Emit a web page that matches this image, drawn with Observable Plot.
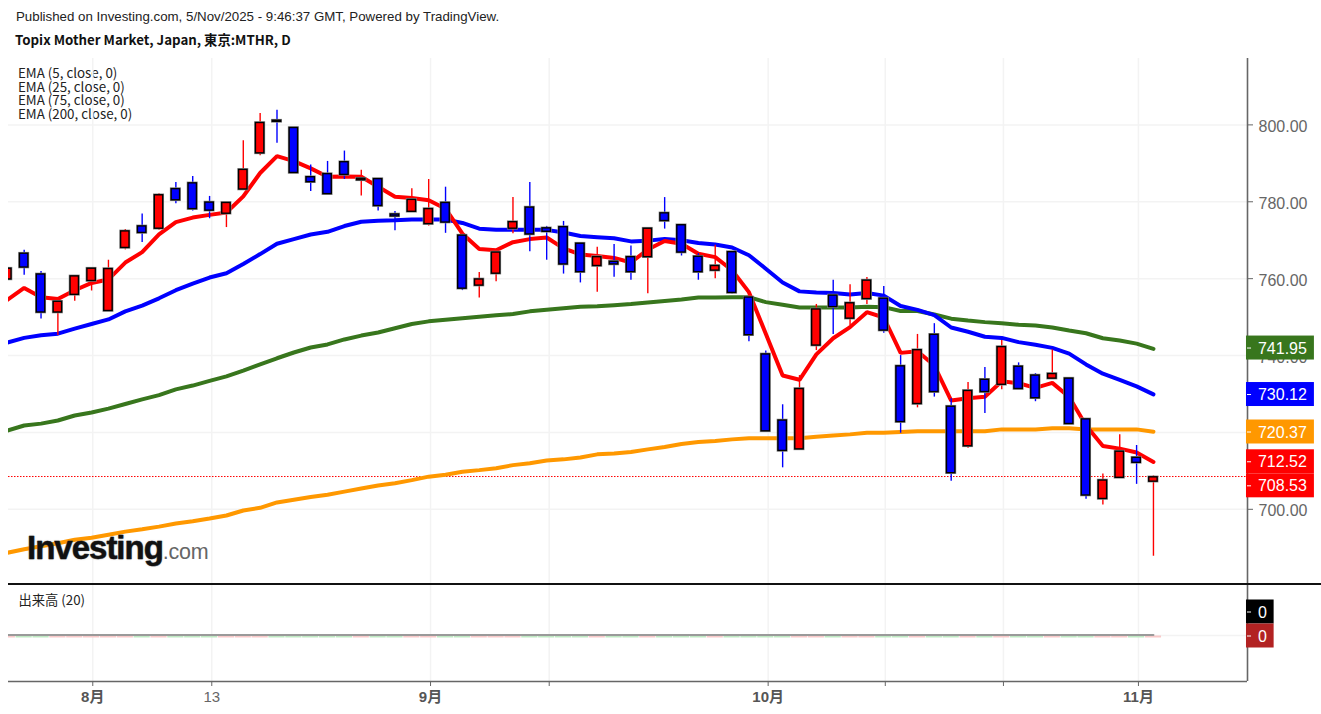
<!DOCTYPE html>
<html>
<head>
<meta charset="utf-8">
<script src="https://cdn.jsdelivr.net/npm/d3@7"></script>
<script src="https://cdn.jsdelivr.net/npm/@observablehq/plot@0.6"></script>
<style>
html,body{margin:0;padding:0;background:#fff;overflow:hidden;}
#page{position:relative;width:1321px;height:714px;}
#page svg{display:block;position:absolute;left:0;}
.t{position:absolute;white-space:nowrap;color:#111;}
#pub{left:16px;top:10px;font:13.3px/14px "Liberation Sans",Arial,sans-serif;color:#222;}
#ttl{left:15px;top:31px;font:700 13.3px/18px "Noto Sans CJK JP",sans-serif;}
#leg{left:18px;top:66px;font:13.35px/13.6px "Noto Sans CJK JP",sans-serif;color:#222;}
#vol{left:18.5px;top:592px;font:13.3px/16px "Noto Sans CJK JP",sans-serif;color:#222;}
#logo{left:27px;top:530px;z-index:5;font:700 33px/36px "Liberation Sans",Arial,sans-serif;letter-spacing:-1px;color:#111;-webkit-text-stroke:.4px #111;text-shadow:0 0 1.5px #777;}
#logo span{font:400 21.5px/36px "Liberation Sans",Arial,sans-serif;letter-spacing:-.3px;color:#666;-webkit-text-stroke:0;text-shadow:none;}
#sep{position:absolute;left:8px;right:0;top:583px;height:2px;background:#111;z-index:4;}
</style>
</head>
<body>
<div id="page">
<div class="t" id="pub">Published on Investing.com, 5/Nov/2025 - 9:46:37 GMT, Powered by TradingView.</div>
<div class="t" id="ttl">Topix Mother Market, Japan, 東京:MTHR, D</div>
<div class="t" id="leg">EMA (5, close, 0)<br>EMA (25, close, 0)<br>EMA (75, close, 0)<br>EMA (200, close, 0)</div>
<div class="t" id="vol">出来高 (20)</div>
<div class="t" id="logo">Investing<span>.com</span></div>
<div id="sep"></div>
</div>
<script>
const opens = [760.0,766.7,761.3,751.4,756.0,759.6,751.8,768.2,773.8,773.2,
783.5,785.0,780.0,777.1,783.4,792.8,801.3,799.4,786.6,787.4,
790.5,785.8,786.1,776.9,777.6,774.4,779.9,771.4,758.4,761.5,
773.2,778.7,773.3,773.6,769.3,763.5,764.6,765.8,765.8,777.2,
774.1,765.9,762.3,767.1,755.3,740.5,723.3,715.8,742.8,755.8,
749.8,754.9,755.0,737.4,727.6,745.6,726.9,716.6,733.9,732.6,
737.3,735.0,734.2,734.2,723.6,702.9,708.4,713.6,707.4];
const closes = [762.8,763.1,751.4,754.2,760.8,762.8,762.7,772.5,772.1,781.9,
780.6,778.3,777.9,779.9,788.5,800.7,801.0,787.7,785.3,782.2,
787.2,786.2,779.1,776.4,780.7,778.3,774.8,757.6,760.0,767.0,
774.9,771.7,772.4,763.9,761.9,765.8,763.9,761.9,773.2,775.2,
767.0,761.9,763.5,756.5,745.5,720.5,715.4,731.5,752.2,752.8,
753.8,759.7,746.7,722.9,741.6,730.7,709.6,731.0,730.7,742.4,
731.5,729.1,735.4,722.4,703.8,707.7,715.2,712.3,708.53];
const highs = [762.8,767.6,762.1,754.2,760.8,762.8,765.0,773.0,777.0,782.3,
785.2,786.8,781.6,779.9,796.1,803.2,804.0,799.4,789.8,790.7,
793.4,788.4,786.1,777.7,783.6,786.0,784.0,771.4,761.8,767.0,
781.3,785.2,773.8,775.1,769.5,768.4,769.1,768.7,773.2,781.3,
774.1,766.7,768.9,767.1,755.3,741.4,727.4,735.0,753.5,759.8,
758.6,760.5,758.2,740.2,745.7,748.5,729.0,733.2,737.1,744.1,
738.3,735.5,741.7,734.4,723.6,709.4,719.6,716.8,708.9];
const lows = [760.0,761.1,749.7,745.4,754.3,757.0,751.8,767.7,769.6,772.8,
779.7,777.8,775.8,773.5,783.4,792.2,795.4,787.7,782.9,782.2,
786.0,781.7,777.8,772.7,777.4,773.9,772.0,757.1,755.2,759.4,
771.9,767.2,765.0,761.4,759.1,756.7,760.6,759.8,756.3,773.1,
766.1,759.8,760.2,756.2,743.8,720.5,711.0,715.8,741.5,745.7,
748.0,753.5,746.0,720.0,726.6,729.4,707.5,716.1,725.1,731.3,
731.5,728.2,734.2,722.4,702.8,701.3,708.4,706.7,688.0];
const ema5 = [754.7,757.8,755.4,754.9,757.2,759.1,760.0,764.4,767.1,771.7,
774.9,776.1,776.8,777.4,781.6,787.7,792.1,790.8,788.9,786.7,
786.8,786.7,784.1,781.5,781.2,780.6,778.4,771.9,767.9,767.6,
769.7,770.5,770.9,768.1,766.5,766.1,765.6,764.4,767.8,770.0,
769.3,766.7,765.8,762.4,756.7,745.9,735.0,733.9,740.5,744.7,
747.6,751.5,750.1,740.9,741.3,737.6,728.5,729.1,729.5,733.5,
733.0,731.8,733.1,729.4,722.0,716.7,716.0,715.0,712.52];
const ema25 = [743.6,744.8,745.5,745.9,747.2,748.4,749.6,751.7,753.2,755.1,
757.2,758.9,760.5,761.6,764.0,766.6,769.3,770.5,771.7,772.4,
773.9,775.0,775.3,775.4,775.6,775.6,775.6,774.7,773.2,772.9,
772.9,772.9,772.9,772.2,771.3,771.0,770.7,769.9,770.1,770.5,
770.2,769.5,769.1,768.3,766.3,762.8,759.2,756.9,756.6,756.5,
756.1,756.5,755.8,753.1,752.1,750.7,747.5,746.4,745.1,744.8,
743.7,743.0,742.2,740.7,737.9,735.5,733.9,732.2,730.12];
const ema75 = [720.7,722.0,722.5,723.3,724.6,725.4,726.4,727.6,728.8,729.9,
731.4,732.4,733.6,734.8,736.3,737.9,739.5,741.0,742.3,743.1,
744.4,745.4,746.2,747.3,748.4,749.1,749.5,749.9,750.3,750.7,
751.0,751.7,752.1,752.5,752.9,753.0,753.3,753.6,754.0,754.4,
754.8,755.3,755.3,755.4,755.4,754.1,753.4,752.7,752.7,752.7,
752.7,752.9,752.8,751.8,751.8,750.9,749.8,749.3,748.9,748.6,
748.2,748.0,747.5,746.7,746.0,744.7,744.1,743.3,741.95];
const ema200 = [688.9,689.8,690.6,691.4,692.3,692.8,693.6,694.4,695.0,695.7,
696.5,697.1,697.8,698.6,699.9,700.6,702.0,702.7,703.4,704.0,
704.8,705.6,706.4,707.0,707.8,708.7,709.2,710.0,710.4,710.9,
711.7,712.2,712.9,713.2,713.7,714.5,714.7,715.1,715.8,716.4,
717.2,717.7,718.0,718.4,718.7,718.7,718.7,718.7,719.1,719.4,
719.7,720.1,720.1,720.3,720.5,720.5,720.5,720.5,720.5,721.0,
721.0,721.0,721.3,721.3,721.0,721.0,721.0,721.0,720.37];
const priceTicks = [700,720,740,760,780,800];
const timeTicks = [5.07,12.13,25.11,32.15,45.14,52.09,59.10,67.11];
const timeLabels = ["8月","13","9月","","10月","","","11月"];
const volumes = opens.map(() => 0);
const lastPrice = 708.53;

const RED="#ff0000",BLUE="#0000ff",GREEN="#38761d",ORANGE="#ff9800",GRID="#f3f3f3",AXIS="#666";
const idx = d3.range(opens.length);
const xDomain = [0.07, 73.58];       // frame edges, in candle numbers
const xOpts = {domain:xDomain};
const W = 1321, ML = 8, MR = 74;
const FONT = '"Liberation Sans",Arial,sans-serif';
const up = i => closes[i] >= opens[i];
const hw = 0.25, SHIFT = 0.8;
const tagL = 73.52, tagR = 77.55, tagZ = 75.16, textX = 74.2, tickEnd = 73.82;

function tag(v, half, shift, fill, label, right){
  return [
    Plot.rect([v],{x1:()=>tagL,x2:()=>right,y1:d=>d-half,y2:d=>d+half,dy:shift,fill}),
    Plot.ruleY([v],{x1:()=>xDomain[1],x2:()=>tickEnd,dy:shift,stroke:"#fff",strokeWidth:1}),
    Plot.text([label],{x:()=>textX,y:()=>v,dy:shift+0.5,text:d=>d,fill:"#fff",fontSize:16,textAnchor:"start"})
  ];
}

const mainPlot = Plot.plot({
  width:W,height:526,marginLeft:ML,marginRight:MR,marginTop:0,marginBottom:0,
  x:{...xOpts,axis:null},
  y:{domain:[680.44,817.27],axis:null},
  style:{fontFamily:FONT,background:"transparent",overflow:"visible"},
  marks:[
    Plot.ruleY(priceTicks,{stroke:GRID,strokeWidth:1.5}),
    Plot.ruleX(timeTicks,{stroke:GRID,strokeWidth:1.5}),
    Plot.ruleY([lastPrice],{stroke:RED,strokeWidth:1,strokeDasharray:"1.5 1.5"}),
    ...[[ema200,ORANGE],[ema75,GREEN],[ema25,BLUE],[ema5,RED]].map(([s,c])=>
      Plot.line(s,{x:(d,i)=>i,y:d=>d,stroke:c,strokeWidth:4,strokeLinejoin:"miter",clip:true,dy:SHIFT})),
    Plot.ruleX(idx,{x:i=>i,y1:i=>lows[i],y2:i=>highs[i],stroke:i=>up(i)?RED:BLUE,strokeWidth:1.4,clip:true,dy:SHIFT}),
    Plot.rect(idx,{x1:i=>i-hw,x2:i=>i+hw,y1:i=>Math.min(opens[i],closes[i]),y2:i=>Math.max(opens[i],closes[i]),
      fill:"none",stroke:"#8a8a8a",strokeWidth:2.6,clip:true,dy:SHIFT}),
    Plot.rect(idx,{x1:i=>i-hw,x2:i=>i+hw,y1:i=>Math.min(opens[i],closes[i]),y2:i=>Math.max(opens[i],closes[i]),
      fill:i=>up(i)?RED:BLUE,stroke:"#000",strokeWidth:1.4,clip:true,dy:SHIFT}),
    Plot.ruleX([xDomain[1]],{stroke:AXIS,strokeWidth:1.6}),
    Plot.axisY(priceTicks,{anchor:"right",tickSize:5,tickFormat:()=>"",color:AXIS,label:null}),
    Plot.axisY(priceTicks,{anchor:"right",tickSize:0,tickPadding:11,dy:2,fontSize:16,color:AXIS,tickFormat:d3.format(".2f"),label:null}),
    ...tag(741.95,3.12,0,GREEN,"741.95",tagR),
    ...tag(730.12,3.12,1,BLUE,"730.12",tagR),
    ...tag(720.37,3.12,1,ORANGE,"720.37",tagR),
    ...tag(712.52,3.12,0.6,RED,"712.52",tagR),
    ...tag(708.53,3.12,9.3,RED,"708.53",tagR)
  ]
});
mainPlot.style.top = "58px";

const volPlot = Plot.plot({
  width:W,height:130,marginLeft:ML,marginRight:MR,marginTop:0,marginBottom:33,
  x:{...xOpts,axis:null},
  y:{domain:[-46,51],axis:null},
  style:{fontFamily:FONT,background:"transparent",overflow:"visible"},
  marks:[
    Plot.ruleY([0],{stroke:GRID,strokeWidth:1.5}),
    Plot.ruleX(timeTicks,{stroke:GRID,strokeWidth:1.5}),
    Plot.ruleY(idx,{y:i=>volumes[i],x1:i=>i-0.48,x2:i=>i+0.48,stroke:i=>up(i)?"#f8c9c9":"#bfe8c2",strokeWidth:2,dy:1,clip:true}),
    Plot.line(volumes,{x:(d,i)=>i,y:d=>d,stroke:"#9a9a9a",strokeWidth:2,dy:-0.5,clip:true}),
    Plot.ruleX([xDomain[1]],{stroke:AXIS,strokeWidth:1.6}),
    Plot.ruleY([-46],{stroke:AXIS,strokeWidth:1.6}),
    Plot.axisX(timeTicks,{anchor:"bottom",tickSize:5,tickFormat:()=>"",color:AXIS,label:null}),
    Plot.text(timeTicks,{filter:(d,i)=>timeLabels[i]&&timeLabels[i].endsWith("月"),x:d=>d,y:()=>-46,dy:16,
      text:(d,i)=>timeLabels[i],fontSize:15,fontWeight:700,fill:"#555",fontFamily:'"Liberation Sans","Noto Sans CJK JP",sans-serif'}),
    Plot.text(timeTicks,{filter:(d,i)=>timeLabels[i]==="13",x:d=>d,y:()=>-46,dy:16,
      text:(d,i)=>timeLabels[i],fontSize:15,fill:"#666"}),
    ...tag(0,12,-23.5,"#000","0",tagZ),
    ...tag(0,12,0.5,"#b22222","0",tagZ)
  ]
});
volPlot.style.top = "584px";

const page = document.getElementById("page");
page.appendChild(mainPlot);
page.appendChild(volPlot);
</script>
</body>
</html>
